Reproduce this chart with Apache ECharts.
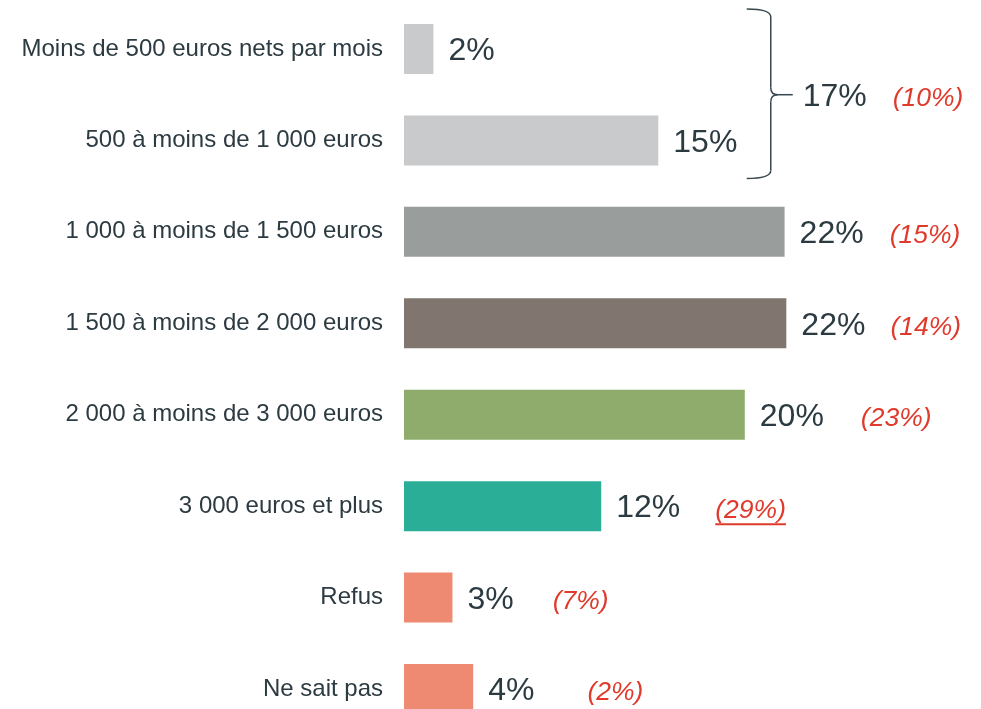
<!DOCTYPE html>
<html>
<head>
<meta charset="UTF-8">
<title>Revenus</title>
<script src="https://cdn.jsdelivr.net/npm/echarts@6/dist/echarts.min.js"></script>
<style>
  html, body { margin: 0; padding: 0; background: #fff; }
  #main { width: 981px; height: 709px; }
</style>
</head>
<body>
<div id="main"></div>
<script>
// données
var categories = ['Moins de 500 euros nets par mois', '500 à moins de 1 000 euros', '1 000 à moins de 1 500 euros',
  '1 500 à moins de 2 000 euros', '2 000 à moins de 3 000 euros', '3 000 euros et plus', 'Refus', 'Ne sait pas'];
var values = [1.7, 14.7, 22.0, 22.1, 19.7, 11.4, 2.8, 4.0];
var valueLabels = ['2%', '15%', '22%', '22%', '20%', '12%', '3%', '4%'];
var previousLabels = ['', '', '(15%)', '(14%)', '(23%)', '(29%)', '(7%)', '(2%)'];
var groupLabel = '17%';
var groupPrevious = '(10%)';

// styles
var colors = ['#c9cacc', '#c9cacc', '#999e9d', '#80766f', '#8fac6d', '#2bae98', '#ee8972', '#ee8972'];
var gaps = [0, 0, 26, 25, 37, 35, 39, 53];
var dark = '#2c3a41';
var red = '#e03a2c';
var fontFam = '"Liberation Sans", Arial, sans-serif';

function richFor(i) {
  return {
    v: { fontSize: 32, color: dark, fontFamily: fontFam },
    r: { fontSize: 26.5, color: red, fontStyle: 'italic', fontFamily: fontFam, padding: [3, 0, 0, gaps[i]] }
  };
}

var chart = echarts.init(document.getElementById('main'));
var option = {
  animation: false,
  // boundaryGap false : première et dernière catégorie sur les bords de la grille
  grid: { left: 404, top: 49, width: 519, height: 640 },
  xAxis: { type: 'value', min: 0, max: 30, show: false },
  yAxis: {
    type: 'category',
    data: categories,
    inverse: true,
    boundaryGap: false,
    axisLine: { show: false },
    axisTick: { show: false },
    splitLine: { show: false },
    axisLabel: { fontSize: 24, color: dark, margin: 21, fontFamily: fontFam, padding: [5, 0, 0, 0] }
  },
  series: [{
    type: 'bar',
    barWidth: 50,
    clip: false,
    data: values.map(function (v, i) {
      return {
        value: v,
        itemStyle: { color: colors[i] },
        label: {
          show: true,
          position: 'right',
          distance: 15,
          offset: [0, 2.5],
          formatter: previousLabels[i] ? '{v|' + valueLabels[i] + '}{r|' + previousLabels[i] + '}' : '{v|' + valueLabels[i] + '}',
          rich: richFor(i)
        }
      };
    })
  }]
};
chart.setOption(option);

// accolade + total du groupe
var y0 = chart.convertToPixel({ yAxisIndex: 0 }, categories[0]);
var y1 = chart.convertToPixel({ yAxisIndex: 0 }, categories[1]);
var yTop = y0 - 40, yBot = y1 + 38, yMid = (y0 + y1) / 2;
var bx = chart.convertToPixel({ xAxisIndex: 0 }, 21.2);

// soulignement de (29%)
var ctx = document.createElement('canvas').getContext('2d');
ctx.font = '32px "Liberation Sans"';
var vW = ctx.measureText(valueLabels[5]).width;
ctx.font = 'italic 26.5px "Liberation Sans"';
var rW = ctx.measureText(previousLabels[5]).width;
var uStart = chart.convertToPixel({ xAxisIndex: 0 }, values[5]) + 15 + vW + gaps[5];
var uY = chart.convertToPixel({ yAxisIndex: 0 }, categories[5]) + 16;

function braceStyle() {
  return { stroke: '#37474f', lineWidth: 1.5, fill: null };
}
chart.setOption({
  graphic: [
    { type: 'bezierCurve', shape: { x1: bx - 24, y1: yTop, cpx1: bx, cpy1: yTop, x2: bx, y2: yTop + 8 }, style: braceStyle() },
    { type: 'line', shape: { x1: bx, y1: yTop + 8, x2: bx, y2: yMid - 7 }, style: braceStyle() },
    { type: 'bezierCurve', shape: { x1: bx, y1: yMid - 7, cpx1: bx, cpy1: yMid, x2: bx + 7, y2: yMid }, style: braceStyle() },
    { type: 'bezierCurve', shape: { x1: bx, y1: yMid + 7, cpx1: bx, cpy1: yMid, x2: bx + 7, y2: yMid }, style: braceStyle() },
    { type: 'line', shape: { x1: bx + 7, y1: yMid, x2: bx + 22, y2: yMid }, style: braceStyle() },
    { type: 'line', shape: { x1: bx, y1: yMid + 7, x2: bx, y2: yBot - 8 }, style: braceStyle() },
    { type: 'bezierCurve', shape: { x1: bx, y1: yBot - 8, cpx1: bx, cpy1: yBot, x2: bx - 24, y2: yBot }, style: braceStyle() },
    {
      type: 'text', x: bx + 32, y: yMid + 2,
      style: { text: groupLabel, fontSize: 32, fill: dark, fontFamily: fontFam, verticalAlign: 'middle' }
    },
    {
      type: 'text', x: bx + 122, y: yMid + 4,
      style: { text: groupPrevious, fontSize: 26.5, fill: red, fontStyle: 'italic', fontFamily: fontFam, verticalAlign: 'middle' }
    },
    {
      type: 'line',
      shape: { x1: uStart, y1: uY + 2, x2: uStart + rW, y2: uY + 2 },
      style: { stroke: red, lineWidth: 2 }
    }
  ]
});
</script>
</body>
</html>
